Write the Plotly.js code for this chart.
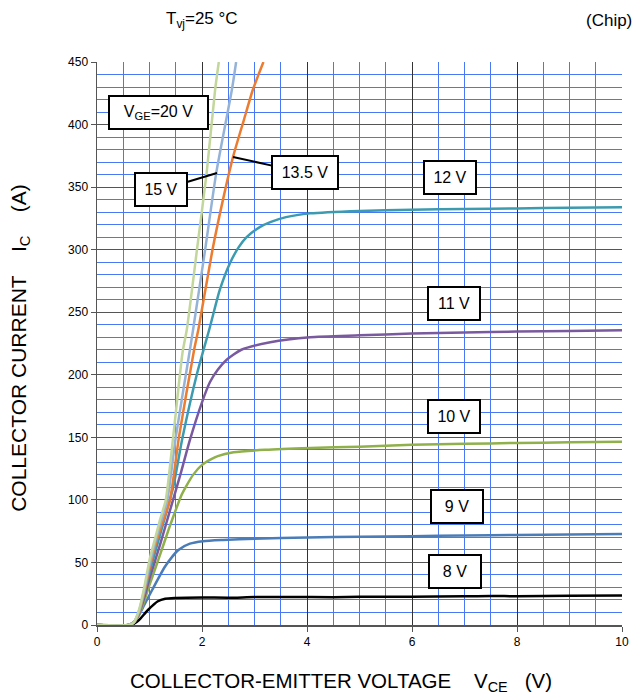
<!DOCTYPE html>
<html>
<head>
<meta charset="utf-8">
<script src="https://cdn.plot.ly/plotly-3.0.1.min.js"></script>
<style>html,body{margin:0;padding:0;background:#fff;}#chart{width:633px;height:697px;}</style>
</head>
<body>
<div id="chart"></div>
<script>
// V_CE (V) and I_C (A), one pair of arrays per V_GE curve
const v20 = [0, 0.6, 0.7, 0.8, 0.9, 1.0, 1.1, 1.2, 1.31, 1.45, 1.63, 1.71, 1.91, 2.09, 2.25, 2.32];
const i20 = [0, 0, 2, 12, 30, 52, 68, 84, 100, 150, 218, 236, 302, 362, 428, 450];
const v15 = [0, 0.6, 0.7, 0.8, 0.9, 1.0, 1.1, 1.2, 1.34, 1.50, 1.77, 1.83, 2.06, 2.27, 2.57, 2.65];
const i15 = [0, 0, 2, 11, 28, 48, 65, 80, 100, 150, 220, 236, 300, 361, 428, 450];
const v135 = [0, 0.6, 0.7, 0.8, 0.9, 1.0, 1.1, 1.2, 1.39, 1.56, 1.85, 1.93, 2.2, 2.4, 2.59, 2.8, 2.97, 3.17];
const i135 = [0, 0, 2, 10, 26, 45, 62, 76, 100, 150, 220, 236, 300, 340, 374, 404, 428, 450];
const v12 = [0, 0.6, 0.7, 0.8, 0.9, 1.0, 1.2, 1.45, 1.63, 1.9, 2.15, 2.34, 2.53, 2.7, 2.85, 3.1, 3.3, 3.6, 4.06, 5, 6, 7, 8, 9, 10];
const i12 = [0, 0, 2, 10, 25, 42, 72, 110, 150, 200, 238, 268, 289, 302, 310, 318, 322, 326, 329, 331, 332, 332.5, 333, 333.5, 334];
const v11 = [0, 0.6, 0.7, 0.8, 0.9, 1.0, 1.2, 1.4, 1.6, 1.77, 2.0, 2.15, 2.3, 2.47, 2.75, 3.3, 4.06, 5, 6, 7, 8, 9, 10];
const i11 = [0, 0, 2, 9, 22, 37, 64, 93, 122, 148, 178, 194, 204, 212, 220, 226, 230, 231.5, 233, 233.8, 234.5, 235, 235.5];
const v10 = [0, 0.6, 0.7, 0.8, 0.9, 1.0, 1.2, 1.37, 1.5, 1.6, 1.7, 1.83, 2.0, 2.15, 2.3, 2.6, 3.2, 4.06, 5, 6, 7, 8, 9, 10];
const i10 = [0, 0, 2, 8, 19, 32, 56, 77, 92, 103, 111, 120, 128, 132, 135, 138, 140, 141.5, 142.5, 144, 144.8, 145.5, 146, 146.5];
const v9 = [0, 0.6, 0.7, 0.8, 0.9, 1.05, 1.3, 1.55, 1.77, 2.02, 2.4, 3, 4, 5, 6, 7, 8, 9, 10];
const i9 = [0, 0, 2, 8, 16, 28, 47, 60, 65, 67, 68, 69, 70, 70.5, 71, 71.5, 72, 72.3, 72.7];
const v8 = [0, 0.6, 0.7, 0.8, 0.97, 1.16, 1.3, 1.49, 2, 2.5, 3, 3.68, 4.5, 5, 6, 7, 7.5, 8, 9, 10];
const i8 = [0, 0, 1, 4, 12, 19, 21, 21.6, 22, 21.8, 22.3, 22.4, 22.2, 22.6, 22.6, 22.9, 23.2, 23, 23.4, 23.5];

// drawn from lowest to highest V_GE so that 20 V lies on top, as in the reference
const series = [
  {x: v8, y: i8, color: '#000000', name: '8 V'},
  {x: v9, y: i9, color: '#4a7db8', name: '9 V'},
  {x: v10, y: i10, color: '#8fb04a', name: '10 V'},
  {x: v11, y: i11, color: '#7a5a9e', name: '11 V'},
  {x: v12, y: i12, color: '#3d9bb0', name: '12 V'},
  {x: v135, y: i135, color: '#ec7c30', name: '13.5 V'},
  {x: v15, y: i15, color: '#95b3d7', name: '15 V'},
  {x: v20, y: i20, color: '#c3d69b', name: '20 V'}
];

const traces = series.map(s => ({
  type: 'scatter', mode: 'lines', x: s.x, y: s.y, name: s.name,
  line: {color: s.color, width: 2.5, shape: 'spline', smoothing: 0.6},
  hoverinfo: 'skip'
}));

const F = 'Arial';
const N = n => '\u00A0'.repeat(n);
const box = (text, x, y, w) => ({
  text: text, x: x, y: y, xref: 'x', yref: 'y', showarrow: false,
  xanchor: 'center', yanchor: 'middle',
  font: {family: F, size: 16, color: '#000'},
  bgcolor: '#fff', bordercolor: '#000', borderwidth: 2, borderpad: 2,
  width: w, height: 27
});

const annotations = [
  box('V<sub>GE</sub>=20 V', 1.162, 410, 93),
  box('12 V', 6.724, 358, 46),
  box('11 V', 6.80, 256.6, 46),
  box('10 V', 6.80, 167, 46),
  box('9 V', 6.857, 95.1, 46),
  box('8 V', 6.819, 42.4, 46),
  Object.assign(box('15 V', 2.286, 361.3, 46), {showarrow: true, arrowhead: 0, arrowwidth: 2, arrowcolor: '#000', ax: -56, ay: 17}),
  Object.assign(box('13.5 V', 2.59, 374.1, 60), {showarrow: true, arrowhead: 0, arrowwidth: 2, arrowcolor: '#000', ax: 72, ay: 16}),
  {text: 'T<sub>vj</sub>=25 °C', xref: 'paper', yref: 'paper', x: 0.2, y: 1.0746, xanchor: 'center', yanchor: 'middle', showarrow: false,
   font: {family: F, size: 17, color: '#000'}},
  {text: '(Chip)', xref: 'paper', yref: 'paper', x: 1.022, y: 1.0746, xanchor: 'right', yanchor: 'middle', showarrow: false,
   font: {family: F, size: 17, color: '#000'}},
  {text: 'COLLECTOR-EMITTER VOLTAGE' + N(4) + 'V<sub>CE</sub>' + N(3) + '(V)', xref: 'paper', yref: 'paper',
   x: 0.465, y: -0.1012, xanchor: 'center', yanchor: 'middle', showarrow: false, font: {family: F, size: 20.5, color: '#000'}},
  {text: 'COLLECTOR CURRENT' + N(4) + 'I<sub>C</sub>' + N(4) + '(A)', xref: 'paper', yref: 'paper',
   x: -0.147, y: 0.492, xanchor: 'center', yanchor: 'middle', textangle: -90, showarrow: false, font: {family: F, size: 21, color: '#000'}}
];

const layout = {
  width: 633, height: 697,
  margin: {l: 97, r: 11, t: 62, b: 72},
  paper_bgcolor: '#fff', plot_bgcolor: '#fff',
  showlegend: false,
  font: {family: F, color: '#000'},
  xaxis: {
    range: [0, 10], dtick: 2, tick0: 0,
    showgrid: true, gridcolor: '#333', gridwidth: 1,
    minor: {dtick: 0.5, showgrid: true, gridcolor: '#4a78f5', gridwidth: 1},
    showline: true, linecolor: '#555', linewidth: 1.5,
    ticks: 'outside', ticklen: 5, tickcolor: '#555',
    tickfont: {family: F, size: 12, color: '#000'}, zeroline: false
  },
  yaxis: {
    range: [0, 450], dtick: 50, tick0: 0,
    showgrid: true, gridcolor: '#555', gridwidth: 1,
    minor: {dtick: 10, showgrid: true, gridcolor: '#4a78f5', gridwidth: 1},
    showline: true, linecolor: '#555', linewidth: 1.5,
    ticks: 'outside', ticklen: 5, tickcolor: '#555',
    tickfont: {family: F, size: 12, color: '#000'}, zeroline: false
  },
  annotations: annotations
};

Plotly.newPlot('chart', traces, layout, {staticPlot: true, displayModeBar: false});
</script>
</body>
</html>
